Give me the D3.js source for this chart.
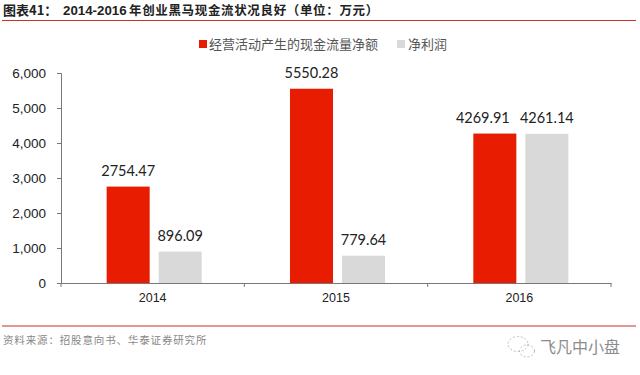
<!DOCTYPE html>
<html><head><meta charset="utf-8">
<script src="https://cdn.jsdelivr.net/npm/d3@7/dist/d3.min.js"></script>
<style>html,body{margin:0;padding:0;background:#fff}svg{display:block}</style></head>
<body><svg id="c" width="640" height="375"></svg>
<script>
const categories=["2014","2015","2016"];
const seriesNames=["经营活动产生的现金流量净额","净利润"];
const cashFlow=[2754.47,5550.28,4269.91];
const netProfit=[896.09,779.64,4261.14];
const yTicks=[0,1000,2000,3000,4000,5000,6000];
const colors=["#E71C00","#D9D9D9"];
const cjk='"Noto Sans CJK SC","Noto Sans",sans-serif';
const latin='"Liberation Sans",Arial,sans-serif';
const svg=d3.select("#c");
const L=61,R=611,B=283,T=73;
const x=d3.scaleBand().domain(categories).range([L,R]);
const y=d3.scaleLinear().domain([0,6000]).range([B,T]);
const sub=d3.scaleOrdinal().domain([0,1]).range([-46,6]);
const bw=43;
// header
const title=svg.append("text").attr("x",3).attr("y",15).attr("font-size",13).attr("font-weight",700).attr("fill","#222");
title.append("tspan").attr("font-family",cjk).text("图表41：");
title.append("tspan").attr("x",63).attr("font-family",latin).attr("font-size",13.3).text("2014-2016");
title.append("tspan").attr("x",129).attr("font-family",cjk).attr("font-size",12.5).attr("letter-spacing",0.65).text("年创业黑马现金流状况良好（单位：万元）");
svg.append("line").attr("x1",2).attr("x2",636).attr("y1",20.5).attr("y2",20.5).attr("stroke","#C8302A").attr("stroke-width",1.2);
// legend
svg.append("rect").attr("x",199).attr("y",40).attr("width",8).attr("height",8).attr("fill",colors[0]);
svg.append("text").attr("x",209).attr("y",49).attr("font-family",cjk).attr("font-size",13).attr("fill","#555").text(seriesNames[0]);
svg.append("rect").attr("x",397).attr("y",40).attr("width",8).attr("height",8).attr("fill",colors[1]);
svg.append("text").attr("x",408).attr("y",49).attr("font-family",cjk).attr("font-size",13).attr("fill","#555").text(seriesNames[1]);
// axes
const yA=svg.append("g").attr("transform",`translate(${L},0)`).call(d3.axisLeft(y).tickValues(yTicks).tickSize(4).tickPadding(11).tickFormat(d3.format(",")));
const xA=svg.append("g").attr("transform",`translate(0,${B})`).call(d3.axisBottom(x).tickSize(0).tickPadding(10));
xA.selectAll(".tick").append("line").attr("stroke","#777").attr("x1",x.step()/2).attr("x2",x.step()/2).attr("y1",0).attr("y2",4);
svg.append("line").attr("x1",L).attr("x2",L).attr("y1",B).attr("y2",B+4).attr("stroke","#777");
[yA,xA].forEach(a=>{a.selectAll("path,line").attr("stroke","#777");a.selectAll("text").attr("font-family",latin).attr("fill","#222");});
yA.selectAll("text").attr("font-size",13.5);
xA.selectAll("text").attr("font-size",12.5);
// bars
[cashFlow,netProfit].forEach((vals,s)=>{
  const g=svg.append("g");
  g.selectAll("rect").data(vals).join("rect")
   .attr("x",(d,i)=>x(categories[i])+x.bandwidth()/2+sub(s))
   .attr("y",d=>y(d)).attr("width",bw).attr("height",d=>B-y(d)).attr("fill",colors[s]);
  g.selectAll("text").data(vals).join("text")
   .attr("x",(d,i)=>x(categories[i])+x.bandwidth()/2+sub(s)+bw/2-(s===0&&i===2?12:0))
   .attr("y",d=>y(d)-11).attr("text-anchor","middle")
   .attr("font-family",'Lato,"Open Sans",sans-serif').attr("font-size",14.5).attr("fill","#222")
   .text(d=>d.toFixed(2));
});
// footer
svg.append("line").attr("x1",2).attr("x2",636).attr("y1",326).attr("y2",326).attr("stroke","#C8302A").attr("stroke-width",1.2);
svg.append("text").attr("x",3).attr("y",344).attr("font-family",cjk).attr("font-size",10.5).attr("letter-spacing",0.85).attr("fill","#888").text("资料来源：招股意向书、华泰证券研究所");
// watermark
const wm=svg.append("g").attr("fill","none").attr("stroke","#aaa").attr("stroke-width",0.8).attr("stroke-dasharray","2 2");
wm.append("ellipse").attr("cx",518).attr("cy",344).attr("rx",10).attr("ry",7.5);
wm.append("ellipse").attr("cx",527).attr("cy",351).attr("rx",7.5).attr("ry",6);
svg.append("text").attr("x",540).attr("y",353).attr("font-family",cjk).attr("font-size",16).attr("fill","#8c8c8c").text("飞凡中小盘");
</script></body></html>
